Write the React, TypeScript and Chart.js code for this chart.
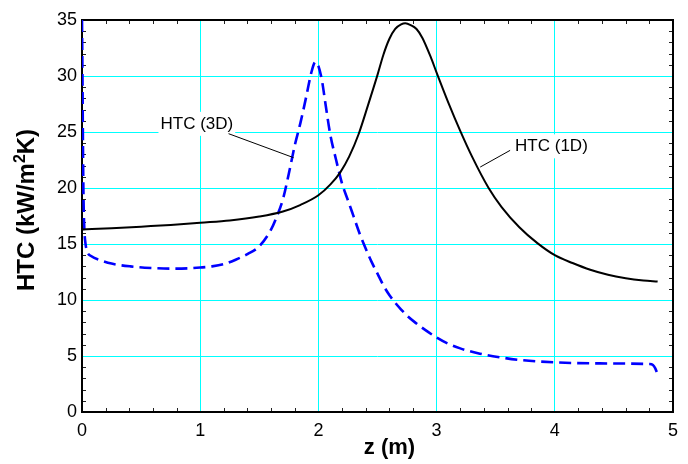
import React, { useEffect, useRef } from 'react';
import { Chart, registerables } from 'chart.js';

Chart.register(...registerables);

// ---- data ----
const z1D = [0, 0.25, 0.5, 0.75, 1.0, 1.25, 1.5, 1.7, 1.85, 2.0, 2.1, 2.185, 2.26, 2.34, 2.42, 2.5, 2.55, 2.6, 2.65, 2.7, 2.735, 2.78, 2.83, 2.88, 2.95, 3.0, 3.1, 3.2, 3.3, 3.44, 3.55, 3.7, 3.85, 4.0, 4.15, 4.3, 4.45, 4.6, 4.75, 4.87];
const htc1D = [16.3, 16.4, 16.55, 16.7, 16.9, 17.1, 17.45, 17.9, 18.5, 19.35, 20.3, 21.4, 22.8, 24.8, 27.4, 30.1, 31.9, 33.3, 34.2, 34.6, 34.7, 34.55, 34.2, 33.4, 31.7, 30.3, 27.6, 25.1, 22.8, 20.0, 18.3, 16.5, 15.1, 14.0, 13.3, 12.7, 12.25, 11.95, 11.75, 11.65];

const z3D = [0, 0.004, 0.008, 0.013, 0.02, 0.03, 0.045, 0.08, 0.156, 0.25, 0.41, 0.6, 0.75, 0.9, 1.0, 1.1, 1.2, 1.3, 1.4, 1.5, 1.6, 1.65, 1.7, 1.75, 1.8, 1.85, 1.9, 1.94, 1.975, 2.0, 2.03, 2.06, 2.1, 2.15, 2.2, 2.25, 2.3, 2.35, 2.4, 2.45, 2.5, 2.55, 2.6, 2.65, 2.7, 2.76, 2.83, 2.9, 3.0, 3.1, 3.2, 3.35, 3.54, 3.7, 4.0, 4.38, 4.8, 4.83, 4.85, 4.865, 4.872];
const htc3D = [35, 30, 24, 19, 16.3, 15.0, 14.3, 13.9, 13.55, 13.25, 13.0, 12.85, 12.8, 12.83, 12.9, 13.0, 13.2, 13.6, 14.1, 14.8, 16.3, 17.5, 19.0, 21.3, 23.8, 25.9, 28.3, 30.3, 31.25, 30.9, 29.6, 27.5, 24.8, 22.5, 20.4, 18.9, 17.4, 15.9, 14.6, 13.4, 12.35, 11.3, 10.45, 9.75, 9.15, 8.5, 7.9, 7.35, 6.65, 6.08, 5.68, 5.25, 4.88, 4.65, 4.43, 4.34, 4.28, 4.2, 3.9, 3.5, 3.3];

const seriesNames = ['HTC (1D)', 'HTC (3D)'];
const xRange = [0, 5];
const yRange = [0, 35];
const xMajorStep = 1;
const yMajorStep = 5;
const xMinorStep = 0.2;
const yMinorStep = 1;
const xTitle = 'z (m)';
const yTitleParts = ['HTC (kW/m', '2', 'K)'];

// annotation labels (data coordinates)
const labelTexts = ['HTC (3D)', 'HTC (1D)'];
const labelX = [0.664, 3.664];
const labelY = [25.73, 23.72];
const leaderFromX = [1.24, 3.622];
const leaderFromY = [24.85, 23.36];
const leaderToX = [1.79, 3.369];
const leaderToY = [22.71, 21.87];

const FONT = '"Liberation Sans", Arial, Helvetica, sans-serif';

const decorPlugin = {
  id: 'decor',
  beforeDatasetsDraw(chart: any) {
    const { ctx, chartArea: a, scales } = chart;
    const x = scales.x;
    const y = scales.y;
    ctx.save();
    ctx.strokeStyle = '#222';
    ctx.lineWidth = 1;
    ctx.beginPath();
    const nx = Math.round((xRange[1] - xRange[0]) / xMinorStep);
    for (let i = 1; i < nx; i++) {
      if (i % Math.round(xMajorStep / xMinorStep) === 0) continue;
      const px = Math.round(x.getPixelForValue(xRange[0] + i * xMinorStep)) + 0.5;
      ctx.moveTo(px, a.bottom);
      ctx.lineTo(px, a.bottom - 4);
      ctx.moveTo(px, a.top);
      ctx.lineTo(px, a.top + 4);
    }
    const ny = Math.round((yRange[1] - yRange[0]) / yMinorStep);
    for (let j = 1; j < ny; j++) {
      if (j % Math.round(yMajorStep / yMinorStep) === 0) continue;
      const py = Math.round(y.getPixelForValue(yRange[0] + j * yMinorStep)) + 0.5;
      ctx.moveTo(a.left, py);
      ctx.lineTo(a.left + 4, py);
      ctx.moveTo(a.right, py);
      ctx.lineTo(a.right - 4, py);
    }
    ctx.stroke();
    ctx.strokeStyle = '#000';
    ctx.lineWidth = 2;
    ctx.strokeRect(a.left, a.top, a.right - a.left, a.bottom - a.top);
    ctx.restore();
  },
  afterDraw(chart: any) {
    const { ctx, chartArea: a, scales } = chart;
    const x = scales.x;
    const y = scales.y;
    ctx.save();
    // annotation labels with leader lines
    ctx.font = '17px ' + FONT;
    ctx.textBaseline = 'middle';
    ctx.textAlign = 'left';
    for (let i = 0; i < labelTexts.length; i++) {
      const px = x.getPixelForValue(labelX[i]);
      const py = y.getPixelForValue(labelY[i]);
      const w = ctx.measureText(labelTexts[i]).width;
      ctx.fillStyle = '#fff';
      ctx.fillRect(px - 2, py - 12, w + 4, 24);
      ctx.fillStyle = '#000';
      ctx.fillText(labelTexts[i], px, py);
      ctx.strokeStyle = '#000';
      ctx.lineWidth = 1;
      ctx.beginPath();
      ctx.moveTo(x.getPixelForValue(leaderFromX[i]), y.getPixelForValue(leaderFromY[i]));
      ctx.lineTo(x.getPixelForValue(leaderToX[i]), y.getPixelForValue(leaderToY[i]));
      ctx.stroke();
    }
    // x title
    ctx.fillStyle = '#000';
    ctx.font = 'bold 22px ' + FONT;
    ctx.textAlign = 'center';
    ctx.textBaseline = 'alphabetic';
    ctx.fillText(xTitle, (a.left + a.right) / 2 + 12, 454);
    // y title (rotated, with superscript)
    const big = 'bold 24px ' + FONT;
    const small = 'bold 16px ' + FONT;
    ctx.font = big;
    const w1 = ctx.measureText(yTitleParts[0]).width;
    const w3 = ctx.measureText(yTitleParts[2]).width;
    ctx.font = small;
    const w2 = ctx.measureText(yTitleParts[1]).width;
    const total = w1 + w2 + w3;
    ctx.translate(34, (a.top + a.bottom) / 2 - 6);
    ctx.rotate(-Math.PI / 2);
    ctx.textAlign = 'left';
    let cx = -total / 2;
    ctx.font = big;
    ctx.fillText(yTitleParts[0], cx, 0);
    cx += w1;
    ctx.font = small;
    ctx.fillText(yTitleParts[1], cx, -9);
    cx += w2;
    ctx.font = big;
    ctx.fillText(yTitleParts[2], cx, 0);
    ctx.restore();
  },
};

export default function App() {
  const ref = useRef<HTMLCanvasElement | null>(null);
  useEffect(() => {
    document.body.style.margin = '0';
    document.body.style.overflow = 'hidden';
    const canvas = ref.current;
    if (!canvas) return;
    const chart = new Chart(canvas, {
      type: 'line',
      data: {
        datasets: [
          {
            label: seriesNames[0],
            data: z1D.map((v, i) => ({ x: v, y: htc1D[i] })),
            borderColor: '#000000',
            borderWidth: 2,
            pointRadius: 0,
            fill: false,
            cubicInterpolationMode: 'monotone',
          },
          {
            label: seriesNames[1],
            data: z3D.map((v, i) => ({ x: v, y: htc3D[i] })),
            borderColor: '#0000FF',
            borderWidth: 2.6,
            borderDash: [12, 6],
            pointRadius: 0,
            fill: false,
            cubicInterpolationMode: 'monotone',
          },
        ],
      },
      options: {
        responsive: false,
        animation: false,
        devicePixelRatio: 1,
        layout: { padding: { top: 20, right: 15, left: 0, bottom: 0 } },
        plugins: {
          legend: { display: false },
          tooltip: { enabled: false },
        },
        scales: {
          x: {
            type: 'linear',
            min: xRange[0],
            max: xRange[1],
            ticks: {
              stepSize: xMajorStep,
              padding: 8,
              color: '#000',
              font: { family: FONT, size: 18 },
              maxRotation: 0,
              autoSkip: false,
            },
            grid: { color: '#00FFFF', lineWidth: 1, drawTicks: false },
            border: { display: false },
            afterFit: (s: any) => {
              s.height = 52;
            },
          },
          y: {
            type: 'linear',
            min: yRange[0],
            max: yRange[1],
            ticks: {
              stepSize: yMajorStep,
              padding: 5,
              color: '#000',
              font: { family: FONT, size: 18 },
              autoSkip: false,
            },
            grid: { color: '#00FFFF', lineWidth: 1, drawTicks: false },
            border: { display: false },
            afterFit: (s: any) => {
              s.width = 82;
            },
          },
        },
      },
      plugins: [decorPlugin],
    });
    return () => chart.destroy();
  }, []);
  return <canvas ref={ref} width={688} height={464} style={{ display: 'block' }} />;
}
